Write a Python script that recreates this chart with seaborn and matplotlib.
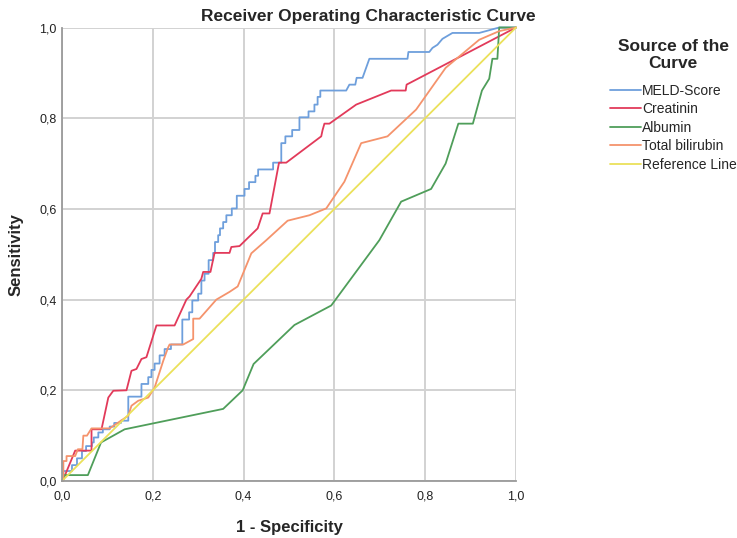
import matplotlib
matplotlib.use("Agg")
import matplotlib.pyplot as plt
import seaborn as sns
import pandas as pd

# ROC coordinates (1 - specificity, sensitivity) for each test variable
meld_fpr = [0, 0.003, 0.003, 0.022, 0.022, 0.033, 0.033, 0.044, 0.044, 0.053, 0.053, 0.066, 0.066,
            0.07, 0.07, 0.08, 0.08, 0.09, 0.09, 0.105, 0.105, 0.115, 0.115, 0.13, 0.13, 0.146, 0.146,
            0.175, 0.175, 0.19, 0.19, 0.197, 0.197, 0.204, 0.204, 0.215, 0.215, 0.226, 0.226, 0.24,
            0.24, 0.265, 0.265, 0.28, 0.28, 0.287, 0.287, 0.3, 0.3, 0.307, 0.307, 0.314, 0.314, 0.323,
            0.323, 0.333, 0.333, 0.337, 0.337, 0.344, 0.344, 0.348, 0.348, 0.355, 0.355, 0.362, 0.362,
            0.374, 0.374, 0.385, 0.385, 0.402, 0.402, 0.412, 0.412, 0.426, 0.426, 0.432, 0.432, 0.465,
            0.465, 0.483, 0.483, 0.492, 0.492, 0.507, 0.507, 0.523, 0.523, 0.543, 0.543, 0.556, 0.556,
            0.563, 0.563, 0.569, 0.569, 0.626, 0.633, 0.646, 0.649, 0.662, 0.677, 0.761, 0.763, 0.809,
            0.816, 0.827, 0.838, 0.860, 0.919, 0.963, 1.0]
meld_tpr = [0, 0, 0.022, 0.022, 0.035, 0.035, 0.05, 0.05, 0.066, 0.066, 0.077, 0.077, 0.085,
            0.085, 0.096, 0.096, 0.107, 0.107, 0.114, 0.114, 0.12, 0.12, 0.128, 0.128, 0.133, 0.133,
            0.186, 0.186, 0.214, 0.214, 0.229, 0.229, 0.245, 0.245, 0.259, 0.259, 0.277, 0.277, 0.291,
            0.291, 0.301, 0.301, 0.356, 0.356, 0.372, 0.372, 0.398, 0.398, 0.413, 0.413, 0.442, 0.442,
            0.457, 0.457, 0.487, 0.487, 0.503, 0.503, 0.527, 0.527, 0.542, 0.542, 0.557, 0.557, 0.571,
            0.571, 0.586, 0.586, 0.601, 0.601, 0.629, 0.629, 0.644, 0.644, 0.659, 0.659, 0.673, 0.673,
            0.687, 0.687, 0.702, 0.702, 0.745, 0.745, 0.760, 0.760, 0.774, 0.774, 0.802, 0.802, 0.815,
            0.815, 0.830, 0.830, 0.847, 0.847, 0.861, 0.861, 0.874, 0.874, 0.889, 0.889, 0.931, 0.931,
            0.946, 0.946, 0.955, 0.962, 0.975, 0.988, 0.988, 1.0, 1.0]

creat_fpr = [0, 0.003, 0.029, 0.065, 0.065, 0.087, 0.102, 0.113, 0.142, 0.153, 0.164, 0.175, 0.186,
             0.208, 0.248, 0.274, 0.281, 0.307, 0.311, 0.327, 0.336, 0.369, 0.373, 0.391, 0.431,
             0.442, 0.457, 0.478, 0.494, 0.571, 0.574, 0.578, 0.589, 0.648, 0.725, 0.757, 0.759, 1.0]
creat_tpr = [0, 0.004, 0.067, 0.067, 0.114, 0.114, 0.184, 0.199, 0.2, 0.243, 0.247, 0.269, 0.273,
             0.343, 0.343, 0.4, 0.407, 0.446, 0.461, 0.461, 0.503, 0.503, 0.516, 0.518, 0.557,
             0.59, 0.59, 0.702, 0.702, 0.76, 0.774, 0.788, 0.788, 0.83, 0.861, 0.861, 0.874, 1.0]

alb_fpr = [0, 0.006, 0.057, 0.086, 0.138, 0.355, 0.398, 0.422, 0.512, 0.593, 0.699, 0.747, 0.813,
           0.845, 0.873, 0.905, 0.925, 0.941, 0.948, 0.959, 0.963, 1.0]
alb_tpr = [0, 0.013, 0.013, 0.085, 0.114, 0.159, 0.2, 0.258, 0.344, 0.387, 0.531, 0.616, 0.644,
           0.70, 0.788, 0.788, 0.861, 0.887, 0.931, 0.931, 1.0, 1.0]

bili_fpr = [0, 0.003, 0.003, 0.01, 0.01, 0.029, 0.035, 0.045, 0.047, 0.055, 0.065, 0.105, 0.124,
            0.146, 0.153, 0.168, 0.19, 0.204, 0.223, 0.234, 0.237, 0.267, 0.289, 0.289, 0.303, 0.34,
            0.369, 0.387, 0.417, 0.45, 0.497, 0.545, 0.582, 0.622, 0.659, 0.717, 0.78, 0.845, 0.919,
            0.963, 1.0]
bili_tpr = [0, 0, 0.044, 0.044, 0.055, 0.055, 0.07, 0.07, 0.1, 0.1, 0.116, 0.116, 0.129,
            0.144, 0.166, 0.177, 0.184, 0.206, 0.265, 0.295, 0.301, 0.301, 0.313, 0.358, 0.358, 0.4,
            0.417, 0.429, 0.502, 0.531, 0.574, 0.586, 0.601, 0.66, 0.745, 0.76, 0.819, 0.911, 0.973,
            0.992, 1.0]

ref_fpr = [0, 1]
ref_tpr = [0, 1]

curve_names = ["MELD-Score", "Creatinin", "Albumin", "Total bilirubin", "Reference Line"]
curve_colors = ["#6e9fdc", "#e23a5a", "#4f9e5a", "#f5936c", "#ebe15a"]
tick_values = [0.0, 0.2, 0.4, 0.6, 0.8, 1.0]
tick_labels = ["0,0", "0,2", "0,4", "0,6", "0,8", "1,0"]

frames = []
for name, xs, ys in zip(curve_names,
                        [meld_fpr, creat_fpr, alb_fpr, bili_fpr, ref_fpr],
                        [meld_tpr, creat_tpr, alb_tpr, bili_tpr, ref_tpr]):
    frames.append(pd.DataFrame({"fpr": xs, "tpr": ys, "curve": name,
                                "order": range(len(xs))}))
df = pd.concat(frames, ignore_index=True)

sns.set_theme(style="white")
plt.rcParams["font.family"] = ["Liberation Sans", "DejaVu Sans"]

fig = plt.figure(figsize=(7.37, 5.38), dpi=100)
ax = fig.add_axes([62 / 737, 1 - 481 / 538, 454 / 737, 453.5 / 538])

ax.set_xlim(0, 1)
ax.set_ylim(0, 1)
ax.set_xticks(tick_values)
ax.set_yticks(tick_values)
ax.set_xticklabels(tick_labels, fontsize=9, color="#222222")
ax.set_yticklabels(tick_labels, fontsize=9, color="#222222")
ax.tick_params(axis="x", length=0, pad=6.5)
ax.tick_params(axis="y", length=0, pad=4)
ax.grid(True, color="#d2d2d2", linewidth=1.4)
ax.set_axisbelow(True)
for side in ["top", "right"]:
    ax.spines[side].set_visible(False)
for side in ["left", "bottom"]:
    ax.spines[side].set_color("#9a9a9a")
    ax.spines[side].set_linewidth(1.3)

sns.lineplot(data=df, x="fpr", y="tpr", hue="curve", units="curve",
             hue_order=curve_names, palette=curve_colors, sort=False,
             estimator=None, linewidth=1.3, ax=ax, legend=False, clip_on=False)

ax.set_xlabel("1 - Specificity", fontsize=12, fontweight="bold", labelpad=13)
ax.set_ylabel("Sensitivity", fontsize=12, fontweight="bold", labelpad=11)
fig.suptitle("Receiver Operating Characteristic Curve", fontsize=12.5,
             fontweight="bold", x=0.5, y=1 - 8.5 / 538)

handles = [plt.Line2D([], [], color=c, linewidth=1.3) for c in curve_colors]
leg = fig.legend(handles, curve_names, loc="upper left",
                 bbox_to_anchor=(610 / 737, 1 - 39 / 538), frameon=False,
                 fontsize=10, handlelength=2.2, handletextpad=0.1,
                 labelspacing=0.32, borderaxespad=0, borderpad=0,
                 alignment="center",
                 title="Source of the\nCurve",
                 title_fontproperties={"weight": "bold", "size": 12.5})
leg.get_title().set_multialignment("center")
leg._legend_box.sep = 9

fig.savefig("out.png", dpi=100)
